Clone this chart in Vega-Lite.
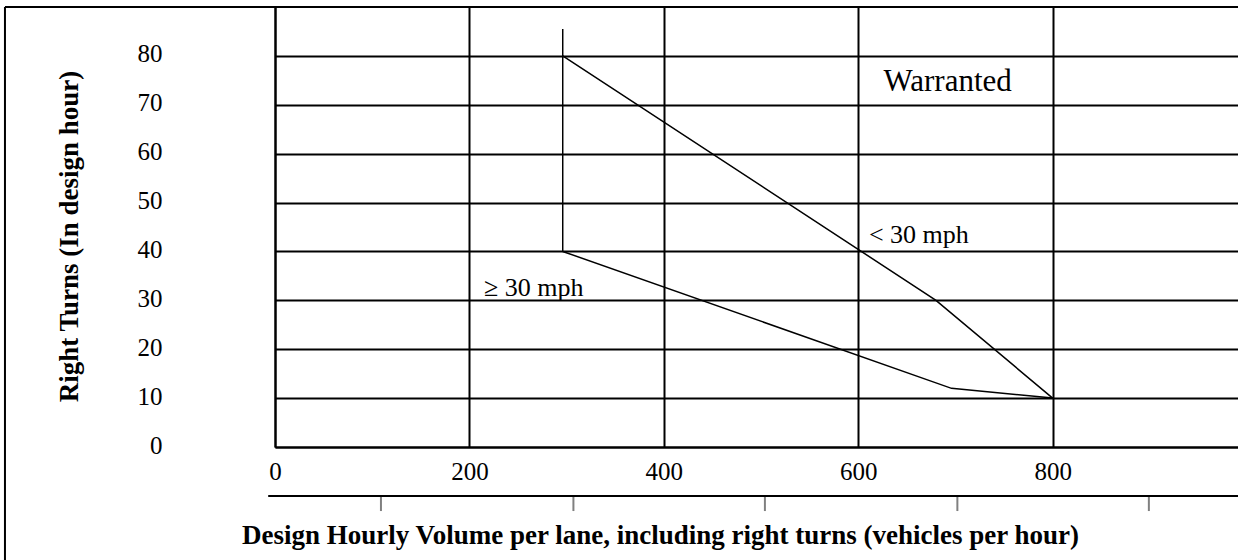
{
  "$schema": "https://vega.github.io/schema/vega-lite/v6.json",
  "width": 963,
  "height": 440,
  "autosize": {"type": "none"},
  "padding": {"left": 275, "top": 7, "right": 0, "bottom": 113},
  "background": "white",
  "config": {
    "view": {"stroke": "transparent"},
    "font": "Liberation Serif"
  },
  "datasets": {
    "curves": [
      {"series": "vertical", "seq": 1, "volume": 296, "turns": 40},
      {"series": "vertical", "seq": 2, "volume": 296, "turns": 85.5},
      {"series": "below 30 mph", "seq": 1, "volume": 296, "turns": 80},
      {"series": "below 30 mph", "seq": 2, "volume": 680, "turns": 30},
      {"series": "below 30 mph", "seq": 3, "volume": 800, "turns": 10},
      {"series": "30 mph or more", "seq": 1, "volume": 296, "turns": 40},
      {"series": "30 mph or more", "seq": 2, "volume": 696, "turns": 12},
      {"series": "30 mph or more", "seq": 3, "volume": 800, "turns": 10}
    ],
    "speedLabels": [
      {"label": "< 30 mph", "volume": 611, "turns": 43.4},
      {"label": "≥ 30 mph", "volume": 215, "turns": 32.5}
    ],
    "regionLabels": [
      {"label": "Warranted", "volume": 626, "turns": 74.7}
    ],
    "lowerTicks": [
      {"tick": 109}, {"tick": 307}, {"tick": 504}, {"tick": 702}, {"tick": 899}
    ]
  },
  "layer": [
    {
      "data": {"name": "curves"},
      "mark": {"type": "line", "color": "black", "strokeWidth": 1.5},
      "encoding": {
        "x": {
          "field": "volume", "type": "quantitative",
          "scale": {"domain": [0, 990.7], "nice": false, "zero": false},
          "axis": {
            "values": [0, 200, 400, 600, 800],
            "grid": true, "gridColor": "black", "gridWidth": 2, "gridOpacity": 1,
            "domain": true, "domainColor": "black", "domainWidth": 2,
            "ticks": false,
            "labelFont": "Liberation Serif", "labelFontSize": 25, "labelColor": "black",
            "labelBaseline": "middle", "labelPadding": 24, "labelFlush": false,
            "title": "Design Hourly Volume per lane, including right turns (vehicles per hour)",
            "titleFont": "Liberation Serif", "titleFontSize": 27, "titleFontWeight": "bold",
            "titleColor": "black", "titleX": 385, "titleY": 88, "titleBaseline": "middle", "titleAlign": "center"
          }
        },
        "y": {
          "field": "turns", "type": "quantitative",
          "scale": {"domain": [0, 90], "nice": false, "zero": false},
          "axis": {
            "values": [0, 10, 20, 30, 40, 50, 60, 70, 80],
            "grid": true, "gridColor": "black", "gridWidth": 2, "gridOpacity": 1,
            "domain": true, "domainColor": "black", "domainWidth": 2,
            "ticks": false,
            "labelFont": "Liberation Serif", "labelFontSize": 25, "labelColor": "black",
            "labelBaseline": "middle", "labelPadding": 113, "labelOffset": -2, "labelFlush": false,
            "title": "Right Turns (In design hour)",
            "titleFont": "Liberation Serif", "titleFontSize": 27, "titleFontWeight": "bold",
            "titleColor": "black", "titleAngle": 270, "titleX": -206, "titleY": 229,
            "titleBaseline": "middle", "titleAlign": "center"
          }
        },
        "detail": {"field": "series"},
        "order": {"field": "seq", "type": "quantitative"}
      }
    },
    {
      "data": {"name": "speedLabels"},
      "mark": {"type": "text", "font": "Liberation Serif", "fontSize": 26, "color": "black", "align": "left", "baseline": "middle"},
      "encoding": {
        "x": {"field": "volume", "type": "quantitative"},
        "y": {"field": "turns", "type": "quantitative"},
        "text": {"field": "label"}
      }
    },
    {
      "data": {"name": "regionLabels"},
      "mark": {"type": "text", "font": "Liberation Serif", "fontSize": 31, "color": "black", "align": "left", "baseline": "middle"},
      "encoding": {
        "x": {"field": "volume", "type": "quantitative"},
        "y": {"field": "turns", "type": "quantitative"},
        "text": {"field": "label"}
      }
    },
    {
      "data": {"name": "lowerTicks"},
      "mark": {"type": "rule", "color": "#808080", "strokeWidth": 2},
      "encoding": {
        "x": {"field": "tick", "type": "quantitative"},
        "y": {"datum": -10},
        "y2": {"datum": -13.1}
      }
    },
    {
      "data": {"values": [{}]},
      "mark": {"type": "rule", "color": "black", "strokeWidth": 2},
      "encoding": {
        "x": {"datum": -7},
        "x2": {"datum": 990.7},
        "y": {"datum": -10}
      }
    },
    {
      "data": {"values": [{}]},
      "mark": {"type": "rule", "color": "black", "strokeWidth": 2},
      "encoding": {
        "x": {"datum": -277.8},
        "x2": {"datum": 990.7},
        "y": {"datum": 90}
      }
    },
    {
      "data": {"values": [{}]},
      "mark": {"type": "rule", "color": "black", "strokeWidth": 2},
      "encoding": {
        "x": {"datum": -277.8},
        "y": {"datum": 90},
        "y2": {"datum": -25}
      }
    }
  ]
}
